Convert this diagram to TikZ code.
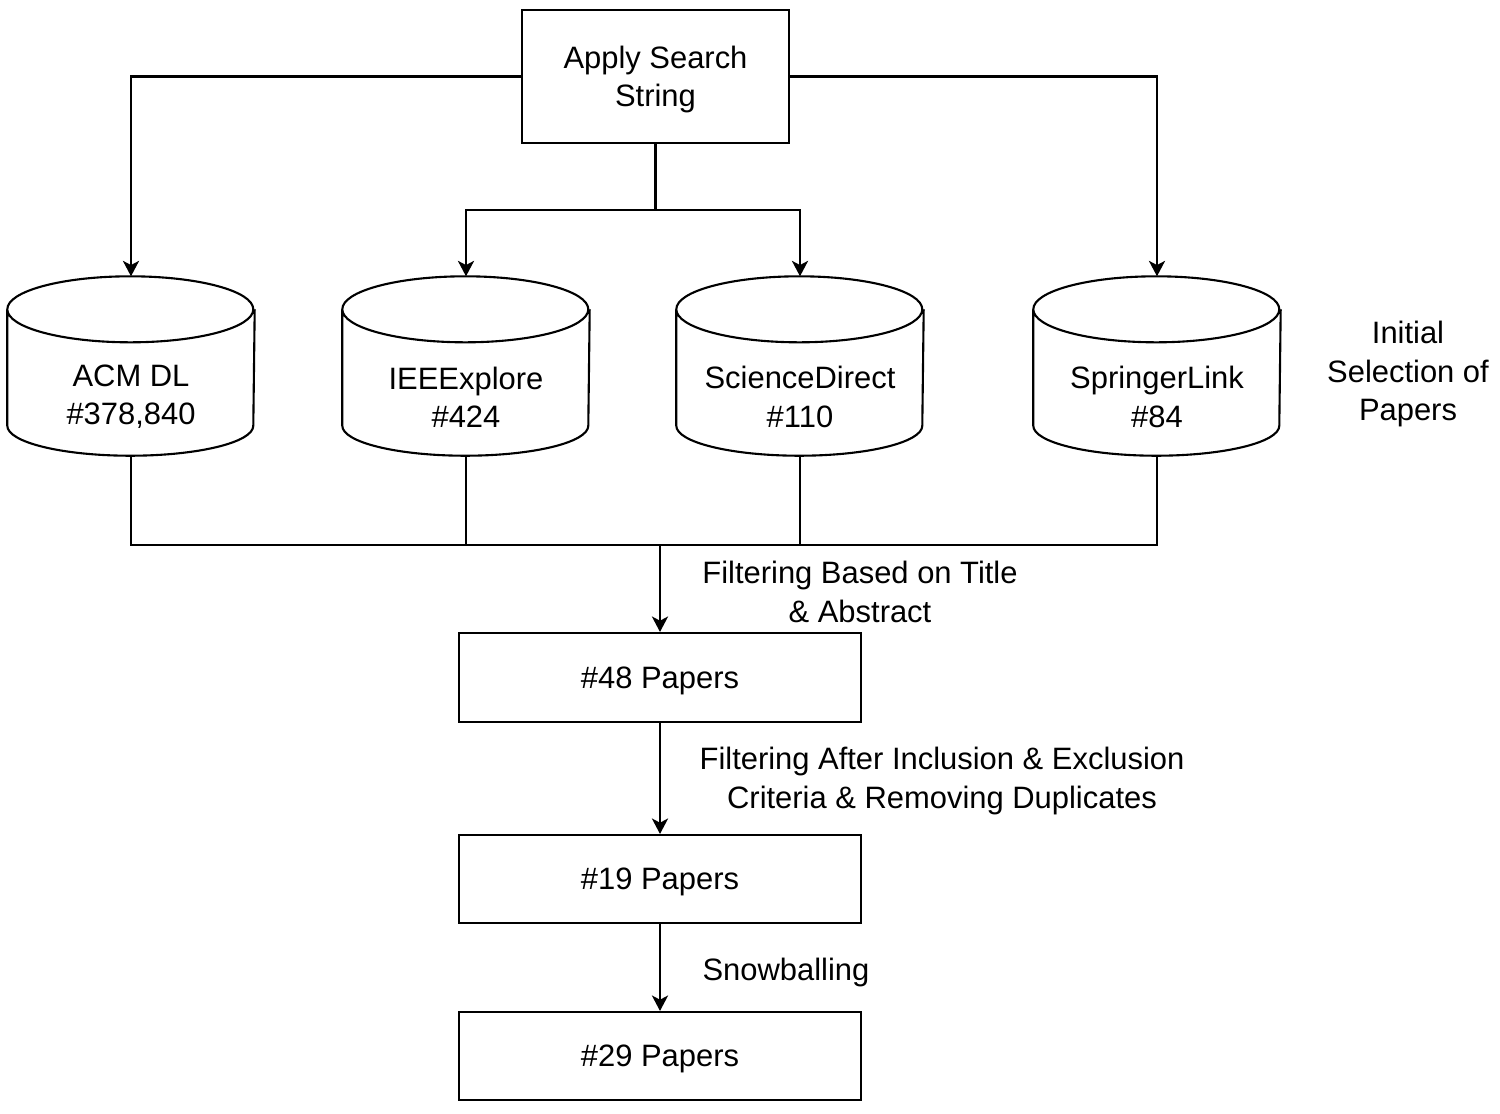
\documentclass[tikz,border=0pt]{standalone}
\usepackage{fontspec}
\setmainfont{Liberation Sans}
\usetikzlibrary{arrows.meta}

\tikzset{
  box/.style={draw, line width=0.6pt, align=center, text depth=0pt},
  db/.style={minimum width=2.46cm, minimum height=1.78cm, inner sep=0pt},
  dblabel/.style={align=center, yshift=-0.31cm},
  arr/.style={line width=0.6pt, -{Stealth[length=4.4pt,width=4.6pt,inset=1.2pt]}},
  ln/.style={line width=0.6pt}
}
% cylinder outline round a db node
\newcommand{\drawdb}[1]{%
  \draw[ln] ([yshift=-0.33cm]#1.north west)
    arc[start angle=180, end angle=0, x radius=1.23cm, y radius=0.33cm]
    arc[start angle=0, end angle=-180, x radius=1.23cm, y radius=0.33cm]
    -- ([yshift=0.30cm]#1.south west)
    arc[start angle=180, end angle=360, x radius=1.23cm, y radius=0.30cm]
    -- ([yshift=-0.33cm]#1.north east);}

\begin{document}
\begin{tikzpicture}[font=\fontsize{8.8}{10.9}\selectfont]
\useasboundingbox (0,0) rectangle (15,-11.13);

\node[box, minimum width=2.67cm, minimum height=1.33cm] (search) at (6.555,-0.765) {Apply Search\\String};

\node[db, label={[dblabel]center:{ACM DL\\\#378,840}}] (acm) at (1.31,-3.66) {};
\node[db, label={[dblabel]center:{IEEExplore\\\#424}}] (ieee) at (4.66,-3.66) {};
\node[db, label={[dblabel]center:{ScienceDirect\\\#110}}] (sd) at (8.00,-3.66) {};
\node[db, label={[dblabel]center:{SpringerLink\\\#84}}] (spr) at (11.57,-3.66) {};
\drawdb{acm} \drawdb{ieee} \drawdb{sd} \drawdb{spr}
\node[align=center] at (14.08,-3.74) {Initial\\Selection of\\Papers};

\node[box, minimum width=4.02cm, minimum height=0.89cm] (p48) at (6.60,-6.775) {\#48 Papers};
\node[box, minimum width=4.02cm, minimum height=0.88cm] (p19) at (6.60,-8.79) {\#19 Papers};
\node[box, minimum width=4.02cm, minimum height=0.88cm] (p29) at (6.60,-10.56) {\#29 Papers};

% search string to the libraries
\coordinate (split) at (6.555,-2.10);
\draw[arr] (search.west) -| (acm.north);
\draw[arr] (search.east) -| (spr.north);
\draw[ln] (search.south) -- (split);
\draw[arr] (split) -| (ieee.north);
\draw[arr] (split) -| (sd.north);

% merge the results
\coordinate (merge) at (6.60,-5.45);
\draw[ln] (acm.south) |- (merge) -| (spr.south);
\draw[ln] (ieee.south) -- (ieee.south |- merge);
\draw[ln] (sd.south) -- (sd.south |- merge);
\draw[arr] (merge) -- (p48.north);
\draw[arr] (p48.south) -- (p19.north);
\draw[arr] (p19.south) -- (p29.north);

\node[align=center] at (8.60,-5.92) {Filtering Based on Title\\\& Abstract};
\node[align=center] at (9.42,-7.81) {Filtering After Inclusion \& Exclusion\\Criteria \& Removing Duplicates};
\node at (7.86,-9.72) {Snowballing};
\end{tikzpicture}
\end{document}
